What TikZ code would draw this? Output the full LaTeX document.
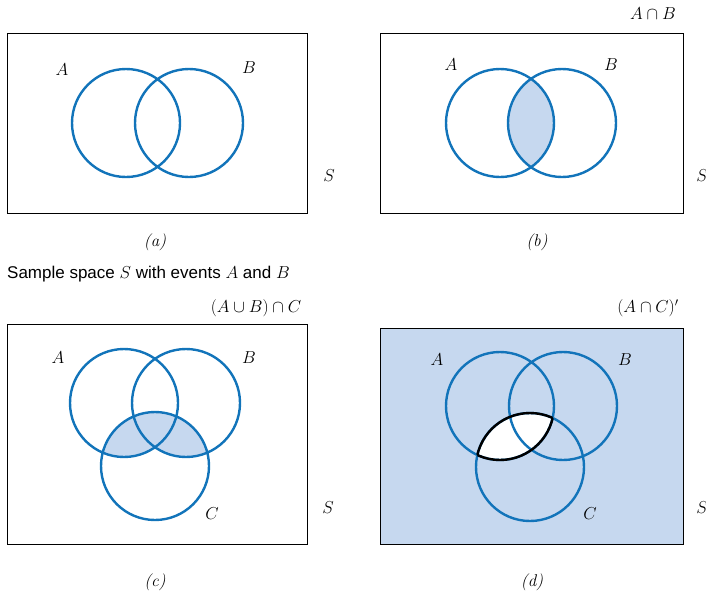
\documentclass[tikz,border=0pt]{standalone}
\usepackage{fontspec}
\setsansfont{Liberation Sans}
\usepackage{tikz}
\usetikzlibrary{positioning}
\definecolor{venn}{RGB}{18,116,186}
\definecolor{vennfill}{RGB}{198,216,239}

\begin{document}
\begin{tikzpicture}[x=1pt,y=-1pt,
  frame/.style={draw=black, line width=1.2pt},
  ring/.style={draw=venn, line width=2.4pt},
  lab/.style={font=\fontsize{17}{20}\selectfont, inner sep=0pt},
  sublab/.style={font=\fontsize{17}{20}\selectfont\itshape, inner sep=0pt},
]
  \useasboundingbox (0,0) rectangle (706,597);
  % (a)
  \node[frame, minimum width=300pt, minimum height=180pt, anchor=north west] (Sa) at (7,33) {};
  \coordinate (aA) at (126,123);
  \coordinate (aB) at (189,123);
  \draw[ring] (aA) circle[radius=54pt] (aB) circle[radius=54pt];
  \node[lab] (la1) at (62,70) {$A$};
  \node[lab] (la2) at (249,68) {$B$};
  \node[lab] (la3) at (329,176) {$S$};
  \node[sublab] (ca) at (155,242) {(a)};
  % (b)
  \node[frame, minimum width=303pt, minimum height=180pt, anchor=north west] (Sb) at (380,33) {};
  \coordinate (bA) at (500,123);
  \coordinate (bB) at (562,123);
  \begin{scope}
    \clip (bA) circle[radius=54pt];
    \fill[vennfill] (bB) circle[radius=54pt];
  \end{scope}
  \draw[ring] (bA) circle[radius=54pt] (bB) circle[radius=54pt];
  \node[lab] (lb1) at (451,65) {$A$};
  \node[lab] (lb2) at (611,65) {$B$};
  \node[lab] (lb3) at (702,176) {$S$};
  \node[lab] (tb) at (653,14) {$A\cap B$};
  \node[sublab] (cb) at (537,242) {(b)};
  % caption
  \node[font=\sffamily\fontsize{17}{20}\selectfont, inner sep=0pt, anchor=west] (title) at (7,274) {Sample space $S$ with events $A$ and $B$};
  % (c)
  \node[frame, minimum width=300pt, minimum height=220pt, anchor=north west] (Sc) at (7,324) {};
  \coordinate (cA) at (124,403);
  \coordinate (cB) at (186,403);
  \coordinate (cC) at (155,466);
  \begin{scope}
    \clip (cC) circle[radius=54pt];
    \fill[vennfill] (cA) circle[radius=54pt] (cB) circle[radius=54pt];
  \end{scope}
  \draw[ring] (cA) circle[radius=54pt] (cB) circle[radius=54pt] (cC) circle[radius=54pt];
  \node[lab] (lc1) at (58,358) {$A$};
  \node[lab] (lc2) at (249,358) {$B$};
  \node[lab] (lc3) at (212,514) {$C$};
  \node[lab] (lc4) at (328,508) {$S$};
  \node[lab] (tc) at (256,308) {$(A\cup B)\cap C$};
  \node[sublab] (cc) at (155,582) {(c)};
  % (d)
  \node[frame, fill=vennfill, minimum width=303pt, minimum height=216pt, anchor=north west] (Sd) at (380,328) {};
  \coordinate (dA) at (500,406);
  \coordinate (dB) at (563,406);
  \coordinate (dC) at (530,467);
  \begin{scope}
    \clip (dA) circle[radius=54pt];
    \fill[white] (dC) circle[radius=54pt];
  \end{scope}
  \draw[ring] (dA) circle[radius=54pt] (dB) circle[radius=54pt] (dC) circle[radius=54pt];
  \begin{scope}
    \clip (dC) circle[radius=54pt];
    \draw[black, line width=2.4pt] (dA) circle[radius=54pt];
  \end{scope}
  \begin{scope}
    \clip (dA) circle[radius=54pt];
    \draw[black, line width=2.4pt] (dC) circle[radius=54pt];
  \end{scope}
  \node[lab] (ld1) at (437,360) {$A$};
  \node[lab] (ld2) at (625,360) {$B$};
  \node[lab] (ld3) at (590,514) {$C$};
  \node[lab] (ld4) at (702,508) {$S$};
  \node[lab] (td) at (648,308) {$(A\cap C)'$};
  \node[sublab] (cd) at (532,582) {(d)};
\end{tikzpicture}
\end{document}
